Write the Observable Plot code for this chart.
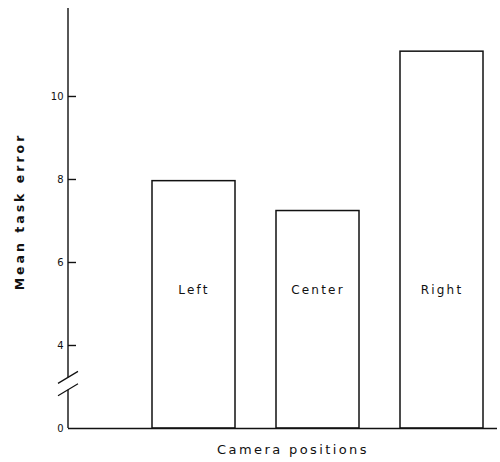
<!DOCTYPE html>
<html>
<head>
<meta charset="utf-8">
<script src="https://cdn.jsdelivr.net/npm/d3@7"></script>
<script src="https://cdn.jsdelivr.net/npm/@observablehq/plot@0.6"></script>
<style>
  html, body { margin: 0; padding: 0; background: #fff; }
  #chart svg { display: block; }
</style>
</head>
<body>
<div id="chart"></div>
<script>
// Data
const categories = ["Left", "Center", "Right"];
const meanErrors = [7.96, 7.24, 11.08];

// Broken y axis: the bottom of the drawn axis (position of the "0" label)
const axisBase = 2;
const axisTop = 12.12;
const yTickValues = [2, 4, 6, 8, 10];
const yTickLabels = ["0", "4", "6", "8", "10"];
const breakValues = [3.22, 2.92];

const yTitle = "Mean task error";
const xTitle = "Camera positions";

const data = categories.map((c, i) => ({category: c, value: meanErrors[i]}));
const labelOf = new Map(yTickValues.map((v, i) => [v, yTickLabels[i]]));

const font = "DejaVu Sans, sans-serif";

// axis line (with a gap for the break) and break slashes, through the y scale
const axisDecor = (index, scales, values, dims) => {
  const y = scales.y;
  const x0 = dims.marginLeft;
  const ns = "http://www.w3.org/2000/svg";
  const g = document.createElementNS(ns, "g");
  const add = (d, w) => {
    const p = document.createElementNS(ns, "path");
    p.setAttribute("d", d);
    p.setAttribute("stroke", "#111");
    p.setAttribute("stroke-width", w);
    p.setAttribute("fill", "none");
    g.appendChild(p);
  };
  add(`M${x0},${y(axisTop)}V${y(breakValues[0])}M${x0},${y(breakValues[1])}V${y(axisBase)}`, 1.4);
  add(breakValues.map(v => `M${x0 - 10},${y(v) + 6}L${x0 + 10},${y(v) - 6}`).join(""), 1.2);
  return g;
};

const chart = Plot.plot({
  width: 500,
  height: 462,
  marginLeft: 68,
  marginRight: 3,
  marginTop: 8,
  marginBottom: 34,
  style: {fontFamily: font, background: "#fff", color: "#111"},
  x: {type: "band", domain: categories, range: [139, 496], paddingInner: 0.33, paddingOuter: 0.1, axis: null},
  y: {domain: [axisBase, axisTop], axis: null},
  marks: [
    Plot.barY(data, {x: "category", y1: axisBase, y2: "value", fill: "#fff", stroke: "#111", strokeWidth: 1.5}),
    Plot.ruleY([axisBase], {stroke: "#111", strokeWidth: 1.5}),
    axisDecor,
    // inward ticks: short horizontal rules starting at the axis
    Plot.tickY(yTickValues.slice(1), {y: d => d, stroke: "#111", strokeWidth: 1.4, className: "yticks"}),
    Plot.text(yTickValues, {y: d => d, text: d => labelOf.get(d), frameAnchor: "left", textAnchor: "end", dx: -5, fontSize: 10, fill: "#111"}),
    Plot.text(data, {x: "category", text: "category", frameAnchor: "bottom", textAnchor: "middle", lineAnchor: "middle", dy: -138, fontSize: 12, fill: "#111", className: "spaced"}),
    Plot.text([yTitle], {frameAnchor: "left", textAnchor: "middle", lineAnchor: "middle", dx: -49, dy: -7, rotate: -90, fontSize: 12.5, fontWeight: "bold", fill: "#111", className: "ytitle"}),
    Plot.text([xTitle], {frameAnchor: "bottom", textAnchor: "middle", lineAnchor: "middle", dx: 10, dy: 21, fontSize: 13, fill: "#111", className: "xtitle"})
  ]
});

// shorten the tick rules to 8px inward from the axis
d3.select(chart).selectAll(".yticks line").each(function() {
  const x1 = +this.getAttribute("x1");
  this.setAttribute("x2", x1 + 8);
});
d3.select(chart).selectAll(".spaced text").style("letter-spacing", "2.2px");
d3.select(chart).selectAll(".ytitle text").style("letter-spacing", "3px");
d3.select(chart).selectAll(".xtitle text").style("letter-spacing", "2.4px");
document.getElementById("chart").appendChild(chart);
</script>
</body>
</html>
